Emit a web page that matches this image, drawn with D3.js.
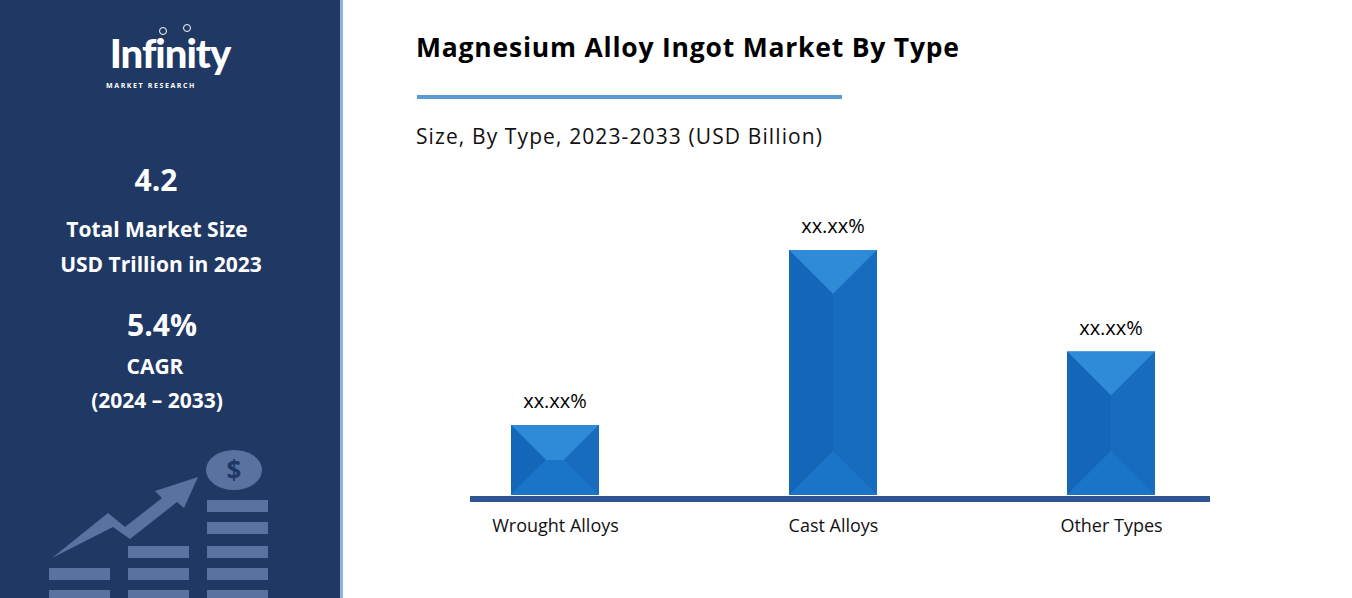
<!DOCTYPE html>
<html><head><meta charset="utf-8">
<script src="https://cdn.jsdelivr.net/npm/d3@7"></script>
<style>body{margin:0;background:#fff}svg{display:block;font-family:"Open Sans",sans-serif}</style>
</head><body>
<svg id="c" width="1352" height="598"></svg>
<script>
var categories = ["Wrought Alloys", "Cast Alloys", "Other Types"];
var values = [2.0, 7.0, 4.1];
var labels = ["xx.xx%", "xx.xx%", "xx.xx%"];

var svg = d3.select("#c");

// side panel
svg.append("rect").attr("width", 340).attr("height", 598).attr("fill", "#1f3864");
svg.append("rect").attr("x", 340).attr("width", 3).attr("height", 598).attr("fill", "#8fb3d9");

var g = svg.append("g").attr("fill", "#fff").attr("text-anchor", "middle").attr("font-weight", "bold");
g.append("text").attr("x", 170).attr("y", 68).attr("font-size", 40).attr("font-family", "Lato,sans-serif").attr("font-weight", 900).attr("letter-spacing", -1).text("Infinity");
g.append("text").attr("x", 106).attr("y", 88).attr("text-anchor", "start").attr("font-size", 7).attr("letter-spacing", 1.6).text("MARKET RESEARCH");
g.append("circle").attr("cx", 163).attr("cy", 31).attr("r", 3.5).attr("fill", "none").attr("stroke", "#fff");
g.append("circle").attr("cx", 187).attr("cy", 28).attr("r", 3.5).attr("fill", "none").attr("stroke", "#fff");
g.append("text").attr("x", 156).attr("y", 191).attr("font-size", 30).text("4.2");
g.append("text").attr("x", 157).attr("y", 237).attr("font-size", 21).text("Total Market Size");
g.append("text").attr("x", 161).attr("y", 272).attr("font-size", 21).text("USD Trillion in 2023");
g.append("text").attr("x", 162).attr("y", 336).attr("font-size", 30).text("5.4%");
g.append("text").attr("x", 155).attr("y", 374).attr("font-size", 21).text("CAGR");
g.append("text").attr("x", 157).attr("y", 408).attr("font-size", 21).text("(2024 \u2013 2033)");

// decorative icon
var ic = svg.append("g").attr("fill", "#5a72a0");
[[49, [568, 590]], [128, [546, 568, 590]], [207, [500, 522, 546, 568, 590]]].forEach(function (c) {
  c[1].forEach(function (y) { ic.append("rect").attr("x", c[0]).attr("y", y).attr("width", 61).attr("height", 12); });
});
ic.append("path").attr("d", "M52,558 L108,513 L125,527 L162,498 L155,491 L198,477 L184,508 L177,502 L130,539 L113,527 Z");
ic.append("ellipse").attr("cx", 234).attr("cy", 470).attr("rx", 28).attr("ry", 20);
ic.append("text").attr("x", 234).attr("y", 480).attr("text-anchor", "middle").attr("font-size", 26).attr("font-weight", "bold").attr("fill", "#1f3864").text("$");

// titles
svg.append("text").attr("x", 416).attr("y", 57).attr("font-size", 26.5).attr("font-weight", "bold").attr("fill", "#000").attr("textLength", 543).text("Magnesium Alloy Ingot Market By Type");
svg.append("rect").attr("x", 417).attr("y", 95).attr("width", 425).attr("height", 4).attr("fill", "#5b9bd5");
svg.append("text").attr("x", 416).attr("y", 144).attr("font-size", 21).attr("fill", "#111").attr("textLength", 406).text("Size, By Type, 2023-2033 (USD Billion)");

// chart
var bw = 88;
var x = d3.scalePoint().domain(categories).range([555, 1111]);
var y = d3.scaleLinear().domain([0, 7]).range([495, 250]);

var bars = svg.append("g").selectAll("g").data(categories).join("g");
bars.each(function (d, i) {
  var b = d3.select(this);
  var x0 = x(d) - bw / 2, w = bw, y0 = y(values[i]), h = y(0) - y0;
  var x1 = x0 + w, y1 = y0 + h, k = Math.min(w, h) / 2;
  b.append("rect").attr("x", x0).attr("y", y0).attr("width", w).attr("height", h).attr("fill", "#1672c8");
  var poly = function (pts, col) { b.append("polygon").attr("points", pts.map(function (p) { return p.join(","); }).join(" ")).attr("fill", col); };
  poly([[x0, y0], [x1, y0], [x1 - k, y0 + k], [x0 + k, y0 + k]], "#2f8ad8");
  poly([[x0, y0], [x0 + k, y0 + k], [x0 + k, y1 - k], [x0, y1]], "#1466b8");
  poly([[x1, y0], [x1 - k, y0 + k], [x1 - k, y1 - k], [x1, y1]], "#176cc0");
  poly([[x0, y1], [x0 + k, y1 - k], [x1 - k, y1 - k], [x1, y1]], "#1a74c8");
  b.append("text").attr("x", x(d)).attr("y", y0 - 17).attr("text-anchor", "middle").attr("font-size", 20).attr("fill", "#000").text(labels[i]);
});

svg.append("rect").attr("x", 470).attr("y", 496).attr("width", 740).attr("height", 6).attr("fill", "#2f5597");

var xa = svg.append("g").attr("transform", "translate(0,502)").call(d3.axisBottom(x).tickSize(0).tickPadding(17));
xa.select(".domain").remove();
xa.selectAll("text").attr("font-size", 18).attr("fill", "#111").attr("font-family", "'Open Sans',sans-serif");
</script>
</body></html>
